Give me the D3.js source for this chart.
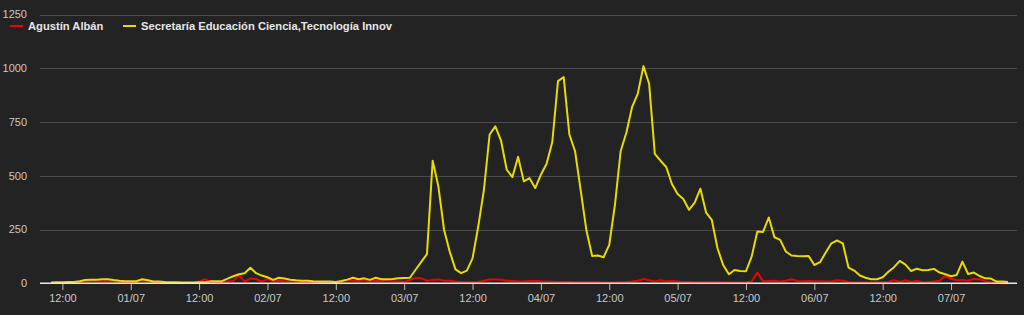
<!DOCTYPE html>
<html>
<head>
<meta charset="utf-8">
<script src="https://cdn.jsdelivr.net/npm/d3@7"></script>
<style>
  html, body { margin: 0; padding: 0; background: #232323; }
  #chart { width: 1024px; height: 315px; }
  svg { display: block; font-family: "Liberation Sans", Arial, sans-serif; }
</style>
</head>
<body>
<div id="chart"></div>
<script>
// hourly samples, 30/06 10:00 -> 07/07 10:00
const firstHour = '2019-06-30T10:00:00Z';
const lastHour = '2019-07-07T10:00:00Z';

const seriesNames = ['Agustín Albán', 'Secretaría Educación Ciencia,Tecnología Innov'];
const seriesColors = ['#f00000', '#e6dc00'];

const albanValues = [
  2, 3, 3, 4, 5, 6, 8, 9, 9, 10, 9, 8, 6, 5,
  5, 6, 12, 8, 5, 4, 4, 3, 3, 3, 3, 4, 8, 19, 8, 3, 5, 8, 10, 37, 8, 22, 20, 8,
  20, 10, 12, 10, 8, 6, 5, 5, 4, 4, 3, 3, 4, 8, 15, 12, 10, 14, 8, 12, 10, 14, 10, 8,
  6, 15, 25, 23, 12, 15, 18, 12, 12, 8, 6, 5, 5, 6, 12, 18, 18, 16, 12, 11, 9, 8, 11, 11,
  9, 8, 7, 6, 6, 6, 5, 5, 5, 5, 5, 4, 4, 5, 5, 6, 8, 12, 20, 14, 9, 14, 9, 11,
  8, 6, 6, 5, 5, 5, 5, 5, 5, 4, 4, 4, 5, 8, 50, 9, 11, 12, 8, 12, 19, 11, 9, 11,
  10, 9, 8, 8, 14, 12, 6, 4, 4, 4, 4, 4, 5, 6, 15, 6, 14, 6, 12, 5, 6, 8, 12, 35,
  20, 14, 15, 12, 20, 19, 10, 5, 3, 0, 0
];

const secretariaValues = [
  4, 5, 5, 6, 6, 10, 15, 17, 17, 19, 19, 15, 12, 10,
  10, 10, 19, 14, 8, 8, 6, 5, 5, 4, 4, 4, 5, 5, 9, 10, 10, 22, 33, 42, 47, 72, 47, 36,
  28, 16, 26, 22, 17, 14, 12, 12, 9, 8, 8, 8, 6, 11, 17, 26, 19, 23, 16, 26, 19, 19, 20, 23,
  25, 26, 63, 100, 136, 570, 451, 249, 147, 65, 47, 59, 116, 264, 435, 692, 730, 664, 528, 494, 588, 474, 489, 443,
  505, 556, 657, 940, 959, 692, 614, 430, 245, 127, 129, 121, 179, 365, 614, 700, 819, 881, 1010, 928, 602, 570, 541, 462,
  415, 392, 342, 375, 440, 329, 295, 163, 85, 42, 62, 57, 56, 124, 241, 239, 306, 214, 202, 148, 129, 127, 126, 127,
  85, 98, 143, 186, 199, 186, 73, 59, 36, 26, 19, 19, 28, 54, 75, 104, 87, 57, 68, 61, 62, 67, 50, 42,
  33, 39, 101, 43, 50, 34, 23, 22, 8, 8, 6
];

const yTicks = [0, 250, 500, 750, 1000, 1250];

const width = 1024, height = 315;
const plotLeft = 40, plotRight = 1017;

const times = d3.utcHour.range(new Date(firstHour), d3.utcHour.offset(new Date(lastHour), 1));

const svg = d3.select('#chart')
  .append('svg')
  .attr('width', width)
  .attr('height', height);

const x = d3.scaleUtc()
  .domain(d3.extent(times))
  .range([51, 1008]);

const y = d3.scaleLinear()
  .domain([0, 1250])
  .range([283.3, 14.5]);

// grid lines + y labels
const grid = svg.append('g');
grid.selectAll('line')
  .data(yTicks.filter(d => d > 0))
  .enter()
  .append('line')
  .attr('x1', plotLeft)
  .attr('x2', plotRight)
  .attr('y1', d => Math.round(y(d)) + 0.5)
  .attr('y2', d => Math.round(y(d)) + 0.5)
  .attr('stroke', '#4c4c4c')
  .attr('stroke-width', 1);

grid.selectAll('text')
  .data(yTicks)
  .enter()
  .append('text')
  .attr('x', 27)
  .attr('y', d => y(d))
  .attr('dy', '0.35em')
  .attr('text-anchor', 'end')
  .attr('fill', '#c8c8c8')
  .style('font-size', '11px')
  .text(d => d);

// x axis ticks every 12h
const xTicks = d3.utcHour.every(12).range(times[0], times[times.length - 1]);
const fmtDay = d3.utcFormat('%d/%m');
const fmtHour = d3.utcFormat('%H:%M');

svg.append('g')
  .attr('transform', `translate(0,${Math.round(y(0))})`)
  .call(d3.axisBottom(x)
    .tickValues(xTicks)
    .tickSize(7)
    .tickPadding(4)
    .tickFormat(d => d.getUTCHours() === 0 ? fmtDay(d) : fmtHour(d)))
  .call(g => g.select('.domain').remove())
  .call(g => g.selectAll('.tick line').attr('stroke', '#bbbbbb'))
  .call(g => g.selectAll('.tick text')
    .attr('fill', '#c8c8c8')
    .style('font-size', '11px')
    .style('font-family', '"Liberation Sans", Arial, sans-serif'));

// lines
const line = d3.line()
  .x((d, i) => x(times[i]))
  .y(d => y(d));

[albanValues, secretariaValues].forEach((vals, k) => {
  svg.append('path')
    .datum(vals)
    .attr('fill', 'none')
    .attr('stroke', seriesColors[k])
    .attr('stroke-width', 2)
    .attr('stroke-linejoin', 'round')
    .attr('d', line);
});

// zero line
svg.append('line')
  .attr('x1', plotLeft)
  .attr('x2', plotRight)
  .attr('y1', y(0))
  .attr('y2', y(0))
  .attr('stroke', '#e8e8e8')
  .attr('stroke-width', 1.5);

// legend
const legendX = [10, 123];
const legend = svg.append('g');
seriesNames.forEach((name, k) => {
  legend.append('line')
    .attr('x1', legendX[k])
    .attr('x2', legendX[k] + 13)
    .attr('y1', 26)
    .attr('y2', 26)
    .attr('stroke', seriesColors[k])
    .attr('stroke-width', 2);
  legend.append('text')
    .attr('x', legendX[k] + 18)
    .attr('y', 30)
    .attr('fill', '#e6e6e6')
    .style('font-size', '11.2px')
    .style('font-weight', 'bold')
    .text(name);
});
</script>
</body>
</html>
